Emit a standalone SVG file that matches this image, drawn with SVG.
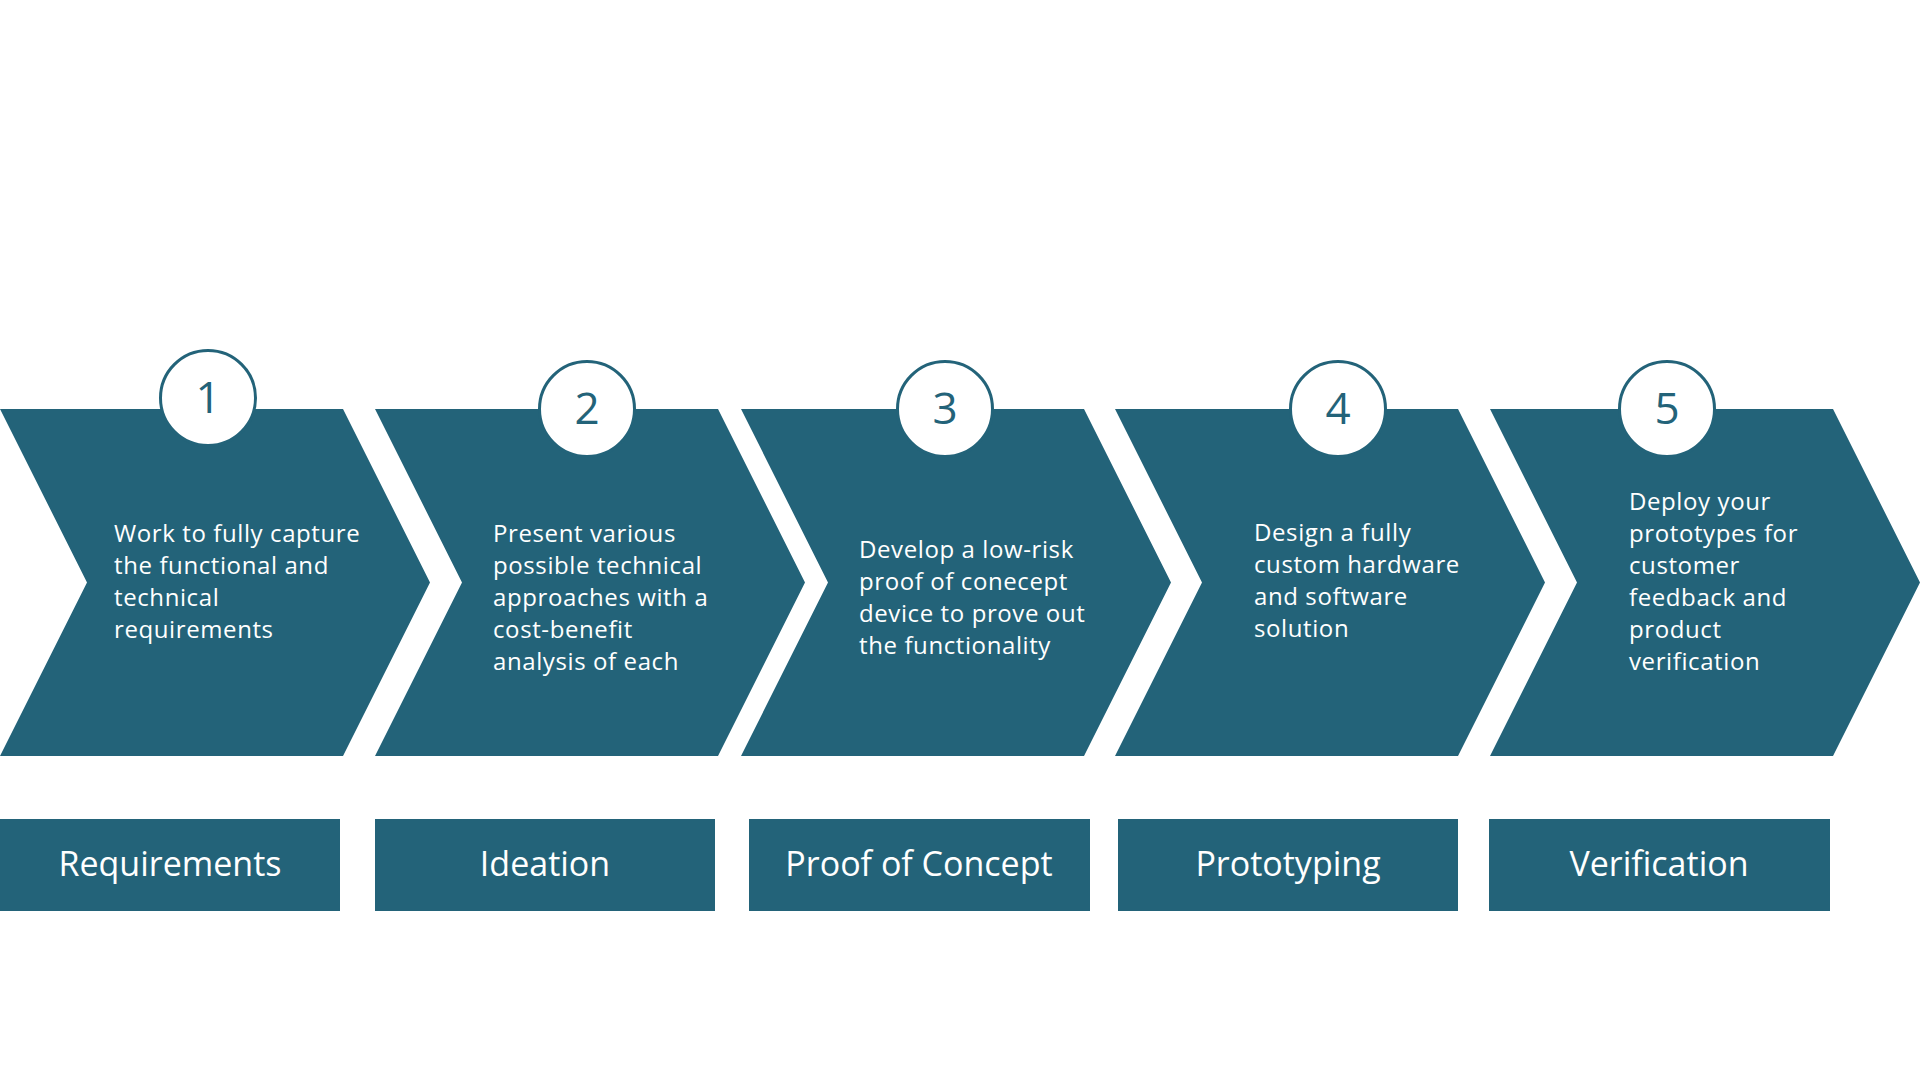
<svg xmlns="http://www.w3.org/2000/svg" width="1920" height="1080" viewBox="0 0 1920 1080">
<style>
.chev{fill:#236379}
.badge{fill:#ffffff;stroke:#236379;stroke-width:3}
.num{font-family:"Open Sans","Liberation Sans",sans-serif;font-size:44px;fill:#236379;text-anchor:middle}
.desc{font-family:"Open Sans","Liberation Sans",sans-serif;font-size:24px;letter-spacing:0.6px;fill:#ffffff}
.lblbox{fill:#236379}
.lbl{font-family:"Open Sans","Liberation Sans",sans-serif;font-size:34px;fill:#ffffff;text-anchor:middle}
</style>
<rect width="1920" height="1080" fill="#ffffff"/>
<defs>
<path id="chevron" d="M0,409 L343,409 L430,582.5 L343,756 L0,756 L87,582.5 Z"/>
</defs>
<g id="step-1">
<use href="#chevron" class="chev" x="0"/>
<circle class="badge" cx="208" cy="398" r="47.5"/>
<text class="num" x="208" y="413">1</text>
<text class="desc" x="114" y="542">Work to fully capture</text>
<text class="desc" x="114" y="574">the functional and</text>
<text class="desc" x="114" y="606">technical</text>
<text class="desc" x="114" y="638">requirements</text>
</g>
<g id="step-2">
<use href="#chevron" class="chev" x="375"/>
<circle class="badge" cx="587" cy="409" r="47.5"/>
<text class="num" x="587" y="424">2</text>
<text class="desc" x="493" y="542">Present various</text>
<text class="desc" x="493" y="574">possible technical</text>
<text class="desc" x="493" y="606">approaches with a</text>
<text class="desc" x="493" y="638">cost-benefit</text>
<text class="desc" x="493" y="670">analysis of each</text>
</g>
<g id="step-3">
<use href="#chevron" class="chev" x="741"/>
<circle class="badge" cx="945" cy="409" r="47.5"/>
<text class="num" x="945" y="424">3</text>
<text class="desc" x="859" y="558">Develop a low-risk</text>
<text class="desc" x="859" y="590">proof of conecept</text>
<text class="desc" x="859" y="622">device to prove out</text>
<text class="desc" x="859" y="654">the functionality</text>
</g>
<g id="step-4">
<use href="#chevron" class="chev" x="1115"/>
<circle class="badge" cx="1338" cy="409" r="47.5"/>
<text class="num" x="1338" y="424">4</text>
<text class="desc" x="1254" y="541">Design a fully</text>
<text class="desc" x="1254" y="573">custom hardware</text>
<text class="desc" x="1254" y="605">and software</text>
<text class="desc" x="1254" y="637">solution</text>
</g>
<g id="step-5">
<use href="#chevron" class="chev" x="1490"/>
<circle class="badge" cx="1667" cy="409" r="47.5"/>
<text class="num" x="1667" y="424">5</text>
<text class="desc" x="1629" y="510">Deploy your</text>
<text class="desc" x="1629" y="542">prototypes for</text>
<text class="desc" x="1629" y="574">customer</text>
<text class="desc" x="1629" y="606">feedback and</text>
<text class="desc" x="1629" y="638">product</text>
<text class="desc" x="1629" y="670">verification</text>
</g>
<g id="label-1">
<rect class="lblbox" x="0" y="819" width="340" height="92"/>
<text class="lbl" x="170" y="876">Requirements</text>
</g>
<g id="label-2">
<rect class="lblbox" x="375" y="819" width="340" height="92"/>
<text class="lbl" x="545" y="876">Ideation</text>
</g>
<g id="label-3">
<rect class="lblbox" x="749" y="819" width="341" height="92"/>
<text class="lbl" x="919" y="876">Proof of Concept</text>
</g>
<g id="label-4">
<rect class="lblbox" x="1118" y="819" width="340" height="92"/>
<text class="lbl" x="1288" y="876">Prototyping</text>
</g>
<g id="label-5">
<rect class="lblbox" x="1489" y="819" width="341" height="92"/>
<text class="lbl" x="1659" y="876">Verification</text>
</g>
</svg>
